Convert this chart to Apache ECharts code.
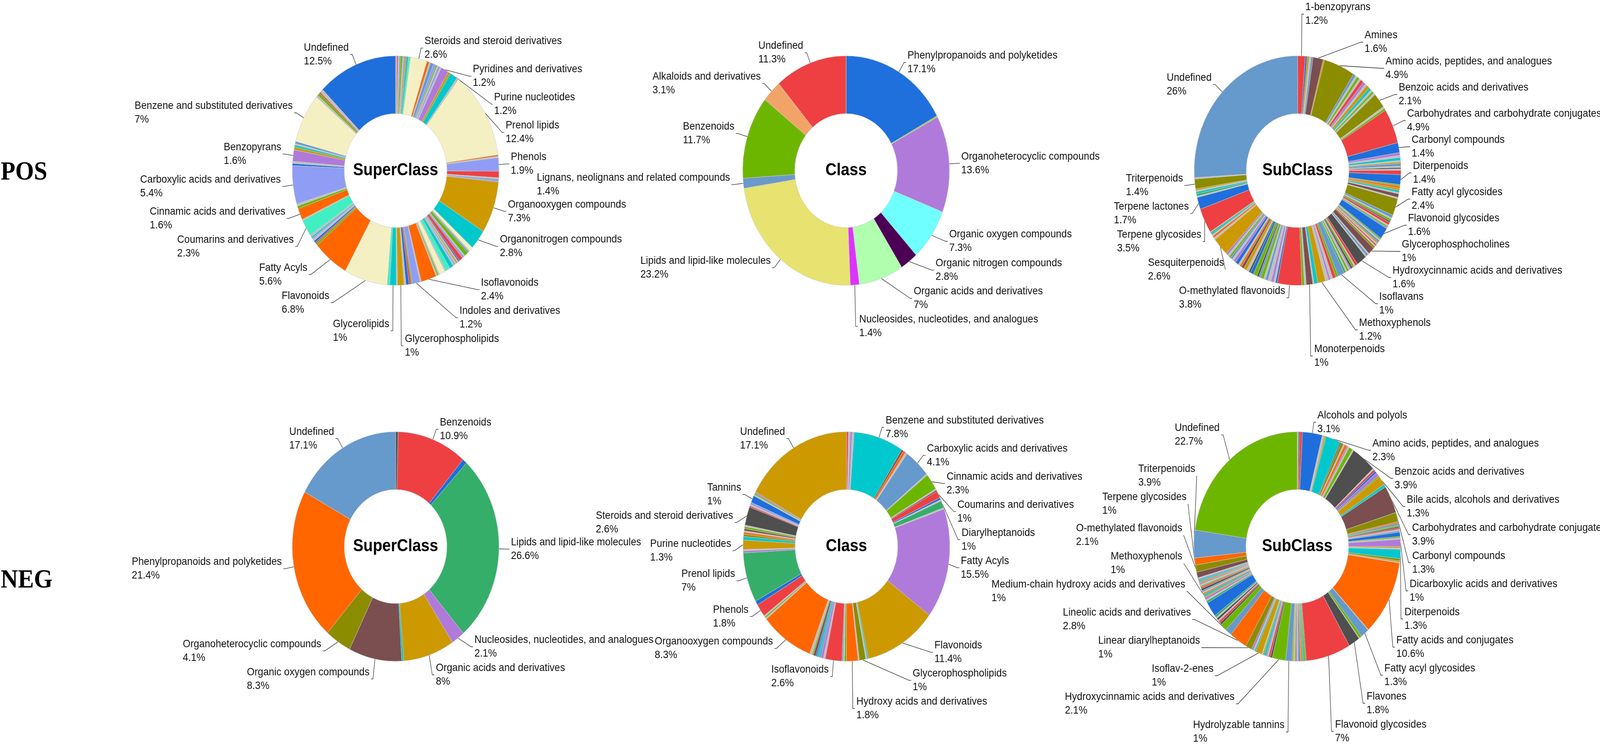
<!DOCTYPE html>
<html><head><meta charset="utf-8">
<script src="https://cdn.jsdelivr.net/npm/echarts@6/dist/echarts.min.js"></script>
<style>html,body{margin:0;padding:0;background:#fff;overflow:hidden}
#wrap{position:fixed;left:0;top:0;width:100vw;height:100vh;overflow:hidden;background:#fff}
#c{width:4550px;height:1911px;transform-origin:0 0;position:absolute;left:0;top:0}</style>
</head><body><div id="wrap"><div id="c"></div></div>
<script>
// ---------- POS SuperClass (clockwise from 12 o'clock) ----------
const posSuperNames = [
 '','','','','','','','','','',
 'Steroids and steroid derivatives','','','','','','','','',
 'Pyridines and derivatives','','Purine nucleotides','',
 'Prenol lipids','','','Phenols','','','','',
 'Organooxygen compounds','Organonitrogen compounds',
 '','','','','','','','','','','','','','','','','','','','',
 'Isoflavonoids','','Indoles and derivatives','','','','','Glycerophospholipids','','Glycerolipids','',
 'Flavonoids','Fatty Acyls','','','','','','','',
 'Coumarins and derivatives','','Cinnamic acids and derivatives','','','Carboxylic acids and derivatives','','','Benzopyrans','','','','',
 'Benzene and substituted derivatives','','','','','Undefined'];
const posSuperValues = [
 0.2,0.2,0.2,0.2,0.3,0.2,0.2,0.2,0.3,0.3,
 2.6,0.4,0.2,0.5,0.4,0.2,0.2,0.3,0.2,
 1.2,0.4,1.2,0.3,
 12.4,0.2,0.2,1.9,0.9,0.2,0.2,0.2,
 7.3,2.8,
 0.6,0.2,0.2,0.6,0.2,0.3,0.6,0.2,0.2,0.2,0.2,0.2,0.2,0.6,0.7,0.2,0.9,0.2,0.2,0.2,
 2.4,0.2,1.2,0.2,0.3,0.5,0.3,1,0.2,1,0.4,
 6.8,5.6,0.3,0.2,0.3,0.3,0.2,0.2,0.3,
 2.3,0.2,1.6,0.4,0.3,5.4,0.3,0.3,1.6,0.4,0.3,0.2,0.3,
 7,0.3,0.4,0.2,0.5,12.5];
const posSuperColors = [
 'GY','RD','GY','SB','GR','GY','PU','GD','CY','MT',
 'CR','OR','GY','SB','PW','GR','GY','PW','GY',
 'PU','GD','CY','GY',
 'CR','OR','GY','PW','RD','GY','SB','PW',
 'GD','CY',
 'CR','GY','SB','GR','GY','PW','RD','B','GY','GD','GY','PW','GY','CY','MT','GY','CR','GY','GR','GY',
 'OR','GY','PW','GR','RD','B','GY','GD','GY','CY','MT',
 'CR','OR','GR','RD','B','GY','PW','CY','GY',
 'MT','GY','OR','GR','GY','PW','B','GY','PU','GD','CY','GY','SB',
 'CR','GY','GR','RD','GY','B'];

// ---------- POS Class ----------
const posClassNames = ['Phenylpropanoids and polyketides','','Organoheterocyclic compounds','Organic oxygen compounds',
 'Organic nitrogen compounds','Organic acids and derivatives','Nucleosides, nucleotides, and analogues',
 'Lipids and lipid-like molecules','Lignans, neolignans and related compounds','Benzenoids','Alkaloids and derivatives','Undefined'];
const posClassValues = [17.1,0.2,13.6,7.3,2.8,7,1.4,23.2,1.4,11.7,3.1,11.3];
const posClassColors = ['C1','C2','C3','C4','C5','C6','C7','C8','C9','C10','C11','C12'];

// ---------- POS SubClass ----------
const posSubNames = [
 '1-benzopyrans','','','','','Amines','','Amino acids, peptides, and analogues',
 '','','','','','','','','','','','',
 'Benzoic acids and derivatives','','','Carbohydrates and carbohydrate conjugates','Carbonyl compounds',
 '','','','','','','','','','',
 'Diterpenoids','','','','','','','',
 'Fatty acyl glycosides','','','','','','','','',
 'Flavonoid glycosides','','','','','','','','',
 'Glycerophosphocholines','','','','Hydroxycinnamic acids and derivatives',
 '','','','','','','','','',
 'Isoflavans','','','','','',
 'Methoxyphenols','','','Monoterpenoids','','',
 'O-methylated flavonoids',
 '','','','','','','','','','','','','','','','','','','','','','','','',
 'Sesquiterpenoids','','','','','','',
 'Terpene glycosides','Terpene lactones','','','','','','Triterpenoids','','Undefined'];
const posSubValues = [
 1.2,0.3,0.3,0.3,0.3,1.6,0.2,4.9,
 0.4,0.3,0.4,0.3,0.5,0.4,0.3,0.5,0.4,0.3,0.3,0.3,
 2.1,0.3,0.3,4.9,1.4,
 0.4,0.3,0.4,0.2,0.2,0.4,0.2,0.2,0.2,0.6,
 1.4,0.2,0.3,0.3,0.3,0.2,0.5,0.2,
 2.4,0.4,0.2,0.3,0.2,0.4,0.2,0.2,0.2,
 1.6,0.2,0.2,0.3,0.2,0.2,0.2,0.2,0.3,
 1,0.2,0.3,0.2,1.6,
 0.4,0.2,0.3,0.3,0.2,0.2,0.3,0.2,0.3,
 1,0.4,0.5,0.4,0.3,0.5,
 1.2,0.6,0.2,1,0.3,0.4,
 3.8,
 0.3,0.3,0.4,0.5,0.4,0.3,0.5,0.3,0.3,0.6,0.5,0.3,0.4,0.5,0.4,0.3,0.3,0.5,0.4,0.3,0.3,0.3,0.3,0.3,
 2.6,0.3,0.3,0.2,0.2,0.2,0.1,
 3.5,1.7,0.2,0.3,0.3,0.2,0.2,1.4,0.2,26];
const posSubColors = [
 'RD','B','GD','GY','SB','BR','GD','OL',
 'SB','GY','GR','GY','RD','PU','GY','GD','CY','GY','GR','GY',
 'OL','GY','GR','RD','B',
 'PU','GY','CY','GY','GD','SB','GY','DG','GY','RD',
 'B','GR','OR','GD','CY','GY','BR','GY',
 'OL','SB','GY','GR','DG','RD','GY','GR','SB',
 'B','GR','GY','SB','GD','GY','RD','GY','OL',
 'BR','GY','SB','GY','DG',
 'RD','GY','GR','DG','PU','GY','GR','GY','TG',
 'SB','GR','RD','GY','PU','GY',
 'GD','CY','GY','BR','GY','GR',
 'RD',
 'B','GY','PU','GY','SB','GY','GR','SB','DG','GR','B','DG','GY','GD','BR','OR','GY','B','PU','GY','SB','GR','GY','PU',
 'GD','GY','OR','GY','CY','TG','GY',
 'RD','B','GY','TG','CY','GY','GD','OL','GY','SB'];

// ---------- NEG SuperClass ----------
const negSuperNames = ['','Benzenoids','','Lipids and lipid-like molecules','Nucleosides, nucleotides, and analogues',
 'Organic acids and derivatives','','Organic oxygen compounds','Organoheterocyclic compounds','Phenylpropanoids and polyketides','Undefined'];
const negSuperValues = [0.4,10.9,0.7,26.6,2.1,8,0.3,8.3,4.1,21.4,17.1];
const negSuperColors = ['DG','RD','B','TG','PU','GD','CY','BR','OL','OR','SB'];

// ---------- NEG Class ----------
const negClassNames = [
 '','','','','Benzene and substituted derivatives','','','',
 'Carboxylic acids and derivatives','','Cinnamic acids and derivatives','','','Coumarins and derivatives','','','Diarylheptanoids','',
 'Fatty Acyls','Flavonoids','','','Glycerophospholipids','','Hydroxy acids and derivatives','','','',
 'Isoflavonoids','','','','','','','','',
 'Organooxygen compounds','','','','Phenols','','Prenol lipids','','',
 'Purine nucleotides','','','','','','','',
 'Steroids and steroid derivatives','','','','Tannins','','','','Undefined'];
const negClassValues = [
 0.3,0.3,0.3,0.3,7.8,0.3,0.4,0.3,
 4.1,0.2,2.3,0.2,0.2,1,0.3,0.2,1,0.2,
 15.5,11.4,0.2,0.2,1,0.2,1.8,0.3,0.2,0.2,
 2.6,0.3,0.4,0.3,0.3,0.2,0.4,0.2,0.4,
 8.3,0.2,0.2,0.2,1.8,0.6,7,0.3,0.2,
 1.3,0.5,0.3,0.3,0.2,0.3,0.3,0.2,
 2.6,0.2,0.2,0.3,1,0.2,0.2,0.2,17.1];
const negClassColors = [
 'RD','GY','PU','GY','CY','BR','OR','GY',
 'SB','GY','GR','GY','BR','RD','B','GY','TG','GY',
 'PU','GD','CY','GY','OL','GY','OR','GR','GY','SB',
 'RD','GY','PU','SB','CY','B','BR','GR','GY',
 'OR','GY','GR','GY','RD','B','TG','PU','GY',
 'GD','CY','OL','OR','GY','BR','GR','GY',
 'DG','RD','GY','PW','B','GY','GR','PU','GD'];

// ---------- NEG SubClass ----------
const negSubNames = [
 '','','','Alcohols and polyols','','','','','Amino acids, peptides, and analogues',
 '','','','','','','','',
 'Benzoic acids and derivatives','','','','','','Bile acids, alcohols and derivatives','','Carbohydrates and carbohydrate conjugates','Carbonyl compounds',
 '','','','','','','','','','',
 'Dicarboxylic acids and derivatives','','','Diterpenoids','','','',
 'Fatty acids and conjugates','','Fatty acyl glycosides','','','Flavones','Flavonoid glycosides',
 '','','','','','','','','','','',
 'Hydrolyzable tannins','Hydroxycinnamic acids and derivatives','','','','','','','',
 'Isoflav-2-enes','','','','Linear diarylheptanoids','Lineolic acids and derivatives','Medium-chain hydroxy acids and derivatives','Methoxyphenols',
 '','','','','','','O-methylated flavonoids',
 '','','','','','','','','','','','','','','','','',
 '','','Terpene glycosides','Triterpenoids','Undefined'];
const negSubValues = [
 0.2,0.2,0.4,3.1,0.2,0.1,0.1,0.2,2.3,
 0.2,0.4,0.2,0.4,0.2,0.2,0.6,0.2,
 3.9,0.2,0.3,0.3,0.5,0.2,1.3,0.4,3.9,1.3,
 0.2,0.3,0.2,0.2,0.2,0.2,0.2,0.6,0.2,0.2,
 1,0.2,0.2,1.3,0.3,0.2,0.1,
 10.6,0.1,1.3,0.4,0.1,1.8,7,
 0.2,0.2,0.2,0.2,0.2,0.2,0.2,0.2,0.2,0.2,0.2,
 1,2.1,0.3,0.3,0.2,0.2,0.3,0.2,0.2,
 1,0.2,0.2,0.3,1,2.8,1,1,
 0.3,0.3,0.2,0.3,0.2,0.3,2.1,
 0.3,0.2,0.3,0.2,0.3,0.2,0.2,0.2,0.3,0.2,0.2,0.2,0.2,0.2,0.2,0.2,0.2,
 0.8,1.0,1,3.9,22.7];
const negSubColors = [
 'GY','DG','RD','B','GY','PU','GR','GD','CY',
 'BR','OL','GY','OR','PU','GY','GR','GY',
 'DG','GY','RD','B','PU','GR','GD','CY','BR','OL',
 'OR','SB','GR','DG','RD','GY','SB','B','GR','GY',
 'PU','GD','GY','CY','OL','GD','GY',
 'OR','GY','SB','GR','GY','DG','RD',
 'GR','TG','CY','OR','GD','B','GY','PU','GR','GY','GD',
 'SB','GR','DG','RD','GY','PU','CY','GR','GY',
 'GD','CY','GY','PU','OL','OR','SB','GR',
 'DG','RD','GY','DG','GY','TG','B',
 'TG','GY','PU','GD','CY','OR','GY','SB','DG','RD','GR','GY','PU','GD','CY','SB','GY',
 'BR','OL','OR','SB','GR'];

// ---------- styles ----------
const palette = {
 B:'#1E6FDC', CR:'#F5F0C3', PW:'#8F9DF5', MT:'#40F0C2', OR:'#FF6600', GD:'#CC9900', CY:'#00C8CC',
 PU:'#B07ADB', RD:'#EE4043', GR:'#6DB600', SB:'#6699CC', GY:'#C0C0C0', DG:'#4F4F4F', BR:'#7B4F50',
 OL:'#8C8C00', TG:'#35AE6A',
 C1:'#1F6FDC', C2:'#9ACD32', C3:'#B07ADB', C4:'#70FFFF', C5:'#4B0055', C6:'#AFFFAF', C7:'#DD33FF',
 C8:'#E8E270', C9:'#6A99CC', C10:'#6DB600', C11:'#F2A468', C12:'#EE4043'
};
const FONT = '"Liberation Sans", Arial, sans-serif';

function buildData(names, values, keys) {
  return values.map((v, i) => ({
    name: names[i] || ('minor ' + i),
    value: v,
    itemStyle: { color: palette[keys[i]] },
    label: { show: !!names[i] },
    labelLine: { show: !!names[i] }
  }));
}

function pieSeries(data, cx, cy, box) {
  return {
    type: 'pie',
    left: box[0], top: box[1], width: box[2], height: box[3],
    center: [cx - box[0], cy - box[1]],
    radius: [146, 294],
    startAngle: 90, clockwise: true,
    avoidLabelOverlap: true,
    silent: true,
    itemStyle: { borderColor: '#cfcfcf', borderWidth: 1 },
    label: {
      position: 'outside',
      formatter: p => '{t|' + p.name + '}\n{t|' + p.value + '%}',
      fontFamily: FONT, fontSize: 28, lineHeight: 35, color: '#111',
      distanceToLabelLine: 4, overflow: 'none',
      rich: { t: { align: 'left', fontFamily: FONT, fontSize: 28, lineHeight: 35, color: '#111' } }
    },
    labelLine: { length: 28, length2: 6, lineStyle: { color: '#222', width: 1.3 } },
    labelLayout: { hideOverlap: false },
    emphasis: { disabled: true },
    data: data
  };
}

// fit the 4550x1911 design onto the whole viewport
const el = document.getElementById('c');
const sx = window.innerWidth / 4550, sy = window.innerHeight / 1911;
el.style.transform = 'scale(' + sx + ',' + sy + ')';

const chart = echarts.init(el, null, { renderer: 'canvas', devicePixelRatio: Math.max(1, (window.devicePixelRatio || 1)) });
const titleStyle = { fontFamily: FONT, fontSize: 44, fontWeight: 'bold', fill: '#000', textAlign: 'center', textVerticalAlign: 'middle' };
const rowStyle = { fontFamily: '"Liberation Serif", "Times New Roman", serif', fontSize: 68, fontWeight: 'bold', fill: '#000', textAlign: 'left', textVerticalAlign: 'middle' };

chart.setOption({
  animation: false,
  backgroundColor: '#ffffff',
  graphic: [
    { type: 'text', x: 2, y: 442, style: Object.assign({ text: 'POS' }, rowStyle) },
    { type: 'text', x: 2, y: 1487, style: Object.assign({ text: 'NEG' }, rowStyle) },
    { type: 'text', x: 1125, y: 437, z: 10, style: Object.assign({ text: 'SuperClass' }, titleStyle) },
    { type: 'text', x: 2406, y: 437, z: 10, style: Object.assign({ text: 'Class' }, titleStyle) },
    { type: 'text', x: 3690, y: 437, z: 10, style: Object.assign({ text: 'SubClass' }, titleStyle) },
    { type: 'text', x: 1125, y: 1400, z: 10, style: Object.assign({ text: 'SuperClass' }, titleStyle) },
    { type: 'text', x: 2407, y: 1400, z: 10, style: Object.assign({ text: 'Class' }, titleStyle) },
    { type: 'text', x: 3689, y: 1400, z: 10, style: Object.assign({ text: 'SubClass' }, titleStyle) }
  ],
  series: [
    pieSeries(buildData(posSuperNames, posSuperValues, posSuperColors), 1125, 437, [150, 0, 2000, 950]),
    pieSeries(buildData(posClassNames, posClassValues, posClassColors), 2406, 437, [1250, 0, 2300, 950]),
    pieSeries(buildData(posSubNames, posSubValues, posSubColors), 3690, 437, [2600, 0, 2300, 950]),
    pieSeries(buildData(negSuperNames, negSuperValues, negSuperColors), 1125, 1400, [150, 955, 2000, 956]),
    pieSeries(buildData(negClassNames, negClassValues, negClassColors), 2407, 1400, [1250, 955, 2300, 956]),
    pieSeries(buildData(negSubNames, negSubValues, negSubColors), 3689, 1400, [2600, 955, 2300, 956])
  ]
});
</script>
</body></html>
